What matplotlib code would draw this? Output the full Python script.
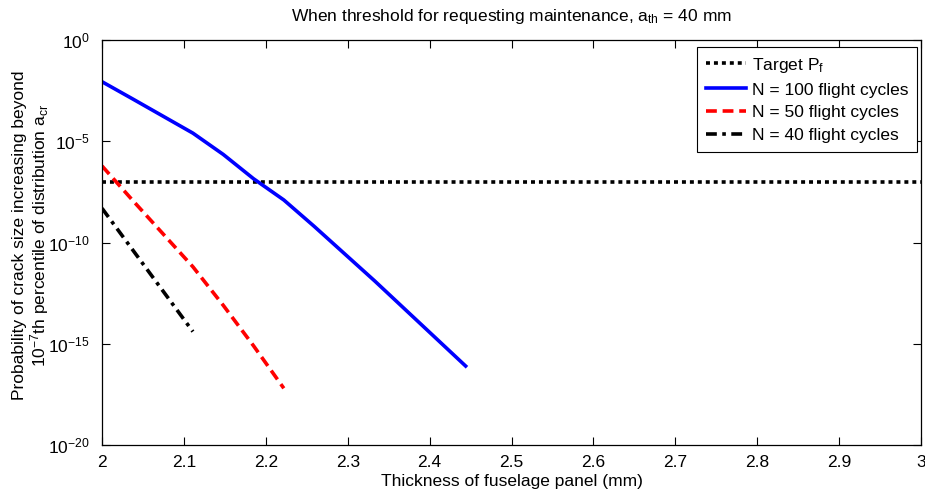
import numpy as np
import matplotlib
matplotlib.use('Agg')
import matplotlib.pyplot as plt
from matplotlib.ticker import FixedLocator, NullLocator, FuncFormatter

plt.rcParams['font.family'] = ['Liberation Sans', 'DejaVu Sans']
plt.rcParams['mathtext.fontset'] = 'custom'
plt.rcParams['mathtext.rm'] = 'Liberation Sans'
plt.rcParams['mathtext.it'] = 'Liberation Sans'
plt.rcParams['mathtext.default'] = 'regular'

# panel thickness (mm) and log10 of failure probability for each inspection interval
thick_100 = [2.0, 2.037, 2.074, 2.111, 2.148, 2.185, 2.222, 2.259, 2.296, 2.333, 2.370, 2.407, 2.444]
logp_100 = [-2.06, -2.90, -3.75, -4.60, -5.65, -6.85, -7.90, -9.20, -10.55, -11.90, -13.30, -14.70, -16.10]

thick_50 = [2.0, 2.037, 2.074, 2.111, 2.148, 2.185, 2.222]
logp_50 = [-6.22, -7.90, -9.55, -11.20, -13.10, -15.10, -17.20]

thick_40 = [2.0, 2.037, 2.074, 2.111]
logp_40 = [-8.31, -10.34, -12.37, -14.40]

target_pf = 1e-7
x_range = [2.0, 3.0]

FS = 12.5

fig = plt.figure(figsize=(9.25, 4.93), dpi=100)
ax = fig.add_axes([102 / 925, 48 / 493, 819 / 925, 405 / 493])

ax.plot(x_range, [target_pf, target_pf], color='black', linestyle=(0, (1.1, 1.1)),
        linewidth=2.6, label='Target P$_f$')
ax.plot(thick_100, 10.0 ** np.array(logp_100), color='#0000ff', linewidth=2.6,
        label='N = 100 flight cycles')
ax.plot(thick_50, 10.0 ** np.array(logp_50), color='#ff0000', linestyle=(0, (3, 1.6)),
        linewidth=2.6, label='N = 50 flight cycles')
ax.plot(thick_40, 10.0 ** np.array(logp_40), color='black', linestyle=(0, (3, 1.5, 1, 1.5)),
        linewidth=2.6, label='N = 40 flight cycles')

ax.set_yscale('log')
ax.set_xlim(2, 3)
ax.set_ylim(1e-20, 1e0)
ax.xaxis.set_major_locator(FixedLocator(np.round(np.arange(2.0, 3.01, 0.1), 1)))
ax.xaxis.set_major_formatter(FuncFormatter(lambda v, p: '%g' % v))
ax.yaxis.set_major_locator(FixedLocator([1e-20, 1e-15, 1e-10, 1e-5, 1e0]))
ax.yaxis.set_minor_locator(NullLocator())
ax.tick_params(direction='in', top=True, right=True, length=6, width=0.8,
               labelsize=FS)
ax.tick_params(axis='x', pad=7)
ax.tick_params(axis='y', pad=9)
for s in ax.spines.values():
    s.set_linewidth(0.9)

ax.set_title('When threshold for requesting maintenance, a$_{th}$ = 40 mm', fontsize=FS, pad=14)
ax.set_xlabel('Thickness of fuselage panel (mm)', fontsize=FS, labelpad=3)
ax.set_ylabel('Probability of crack size increasing beyond\n'
              '$10^{-7}$th percentile of distribution a$_{cr}$',
              fontsize=FS, linespacing=1.05)
ax.yaxis.set_label_coords(-0.062, 0.518)

leg = ax.legend(loc='upper right', bbox_to_anchor=(0.995, 0.983), fontsize=FS,
                handlelength=2.3, handletextpad=0.35, borderpad=0.5, labelspacing=0.45,
                fancybox=False, framealpha=1, borderaxespad=0)
leg.get_frame().set_edgecolor('black')
leg.get_frame().set_linewidth(0.8)

fig.savefig('out.png', dpi=100)
